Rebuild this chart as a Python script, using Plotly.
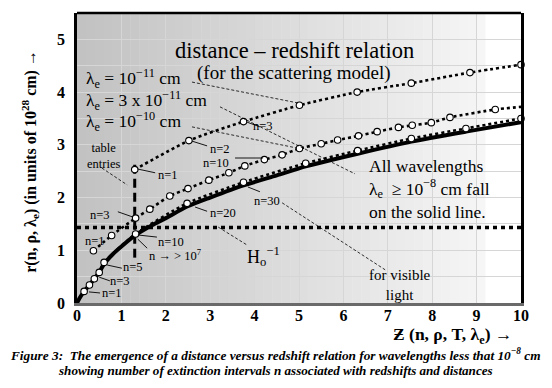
import plotly.graph_objects as go

# ---------------- data ----------------
# solid line: all wavelengths >= 1e-8 cm
z_solid = [0, 0.05, 0.16, 0.28, 0.39, 0.5, 0.61, 0.8, 1.0, 1.32, 1.7, 2.0, 2.48, 3.0,
           3.75, 4.5, 5.15, 6.32, 7.53, 8.76, 10.0]
r_solid = [0, 0.08, 0.22, 0.34, 0.46, 0.58, 0.74, 0.92, 1.07, 1.29, 1.48, 1.61, 1.83, 2.0,
           2.23, 2.42, 2.59, 2.83, 3.06, 3.25, 3.43]

# lambda_e = 1e-10 cm (table entries n = 1..5, 10, 20, ... 80)
z_l10 = [0.16, 0.28, 0.39, 0.5, 0.61, 1.32, 2.48, 3.75, 5.15, 6.32, 7.53, 8.76, 10.0]
r_l10 = [0.22, 0.34, 0.46, 0.58, 0.77, 1.31, 1.89, 2.29, 2.65, 2.89, 3.12, 3.31, 3.50]

# lambda_e = 3e-11 cm (n = 1, 2, 3, ...)
z_l3e11 = [0.37, 0.78, 1.32, 1.64, 2.09, 2.5, 2.97, 3.42, 3.78, 4.22, 4.62, 5.01, 5.5,
           5.87, 6.34, 6.76, 7.24, 7.55, 7.98, 8.4, 9.42]
r_l3e11 = [0.99, 1.28, 1.61, 1.78, 2.03, 2.17, 2.33, 2.47, 2.6, 2.72, 2.81, 2.93, 3.02,
           3.09, 3.17, 3.25, 3.33, 3.37, 3.42, 3.52, 3.67]
z_l3e11_end = 10.0
r_l3e11_end = 3.72

# lambda_e = 1e-11 cm (n = 1, 2, 3, ...)
z_l11 = [1.3, 2.52, 3.75, 5.01, 6.31, 7.53, 8.85, 10.0]
r_l11 = [2.53, 3.08, 3.44, 3.75, 4.0, 4.17, 4.37, 4.52]

# reference lines
hubble_r = 1.43            # H0^-1
table_z = 1.3              # table entries
table_r = [0.86, 2.70]

x_ticks = [0, 1, 2, 3, 4, 5, 6, 7, 8, 9, 10]
y_ticks = [0, 1, 2, 3, 4, 5]

SERIF = "Liberation Serif"

fig = go.Figure()

# background gradient strips (style only)
n_strips = 46
x_end_grad = 9.2
for i in range(n_strips):
    x0 = x_end_grad * i / n_strips
    x1 = x_end_grad * (i + 1) / n_strips
    g = int(194 + (246 - 194) * i / (n_strips - 1))
    fig.add_shape(type="rect", xref="x", yref="paper", x0=x0, x1=x1 + 0.01, y0=0, y1=1,
                  fillcolor=f"rgb({g},{g},{g})", line_width=0, layer="below")
fig.add_shape(type="rect", xref="x", yref="paper", x0=x_end_grad, x1=10, y0=0, y1=1,
              fillcolor="white", line_width=0, layer="below")

# H0^-1 line
fig.add_trace(go.Scatter(x=[0, 10], y=[hubble_r, hubble_r], mode="lines",
                         line=dict(color="black", width=3.5, dash="4px,4px"),
                         hoverinfo="skip"))
# table entries dashed vertical
fig.add_trace(go.Scatter(x=[table_z, table_z], y=table_r, mode="lines",
                         line=dict(color="black", width=3, dash="9px,5px"),
                         hoverinfo="skip"))

dot_line = dict(color="black", width=2.6, dash="dot", shape="spline", smoothing=0.6)
mk = dict(size=6.5, color="white", line=dict(color="black", width=1.1))

# lambda 1e-10 dotted (drawn before the solid line)
fig.add_trace(go.Scatter(x=z_l10, y=r_l10, mode="lines", line=dot_line))
# solid line
fig.add_trace(go.Scatter(x=z_solid, y=r_solid, mode="lines",
                         line=dict(color="black", width=4, shape="spline", smoothing=0.6)))
# middle and top dotted
fig.add_trace(go.Scatter(x=z_l3e11 + [z_l3e11_end], y=r_l3e11 + [r_l3e11_end],
                         mode="lines", line=dot_line))
fig.add_trace(go.Scatter(x=z_l11, y=r_l11, mode="lines", line=dot_line))

# markers
for zz, rr in [(z_l10, r_l10), (z_l3e11, r_l3e11), (z_l11, r_l11)]:
    fig.add_trace(go.Scatter(x=zz, y=rr, mode="markers", marker=mk, cliponaxis=False))

# ---------------- annotations ----------------
def txt(x, y, text, size, xanchor="center", align="center", **kw):
    fig.add_annotation(x=x, y=y, xref="x", yref="y", text=text, showarrow=False,
                       xanchor=xanchor, yanchor="middle", align=align,
                       font=dict(family=SERIF, size=size, color="black"), **kw)

txt(4.89, 4.79, "distance – redshift relation", 22.5)
txt(4.89, 4.37, "(for the scattering model)", 19)
txt(0.16, 4.25, "λ<sub>e</sub> = 10<sup>−11</sup> cm", 17.5, xanchor="left")
txt(0.16, 3.85, "λ<sub>e</sub> = 3 x 10<sup>−11</sup> cm", 17.5, xanchor="left")
txt(0.16, 3.44, "λ<sub>e</sub> = 10<sup>−10</sup> cm", 17.5, xanchor="left")
txt(0.59, 2.79, "table<br>entries", 12.5)

small = 12.5
txt(2.05, 2.43, "n=1", small)
txt(0.52, 1.67, "n=3", small)
txt(0.41, 1.18, "n=1", small)
txt(2.12, 1.16, "n=10", small)
txt(2.22, 0.91, "n → > 10<sup>7</sup>", small)
txt(1.26, 0.68, "n=5", small)
txt(0.97, 0.42, "n=3", small)
txt(0.79, 0.19, "n=1", small)
txt(3.22, 2.92, "n=2", small)
txt(4.19, 3.36, "n=3", small)
txt(3.13, 2.65, "n=10", small)
txt(3.29, 1.71, "n=20", small)
txt(4.28, 1.93, "n=30", small)
txt(4.19, 0.89, "H<sub>o</sub><sup>−1</sup>", 18)
txt(7.27, 0.34, "for visible<br>light", 15)
txt(6.53, 2.16, "All wavelengths<br>λ<sub>e</sub>  ≥ 10<sup>−8</sup> cm fall<br>on the solid line.",
    17.5, xanchor="left", align="left")

# pointer lines (dashed thin)
for (x0, y0, x1, y1) in [(2.59, 4.19, 5.0, 3.79), (3.22, 3.72, 6.26, 2.45),
                         (2.59, 3.34, 4.95, 2.94), (0.56, 2.56, 1.13, 2.24),
                         (3.18, 1.44, 3.83, 1.10), (4.62, 1.90, 6.94, 0.63)]:
    fig.add_shape(type="line", x0=x0, y0=y0, x1=x1, y1=y1, xref="x", yref="y",
                  line=dict(color="black", width=0.8, dash="3px,2px"))
# pointer lines (solid short)
for (x0, y0, x1, y1) in [(1.37, 2.54, 1.76, 2.47), (0.92, 1.73, 1.26, 1.63),
                         (1.37, 1.29, 1.80, 1.25), (1.37, 1.21, 1.58, 1.04),
                         (0.68, 0.72, 1.01, 0.66), (0.50, 0.49, 0.74, 0.42),
                         (0.27, 0.21, 0.52, 0.19), (2.59, 3.07, 2.93, 2.98),
                         (3.83, 3.43, 4.12, 3.34), (3.56, 2.75, 4.19, 2.75),
                         (2.66, 1.82, 2.93, 1.74), (3.85, 2.20, 4.12, 2.11)]:
    fig.add_shape(type="line", x0=x0, y0=y0, x1=x1, y1=y1, xref="x", yref="y",
                  line=dict(color="black", width=0.9))

# top border
fig.add_shape(type="line", xref="paper", yref="paper", x0=0, x1=1, y0=1, y1=1,
              line=dict(color="black", width=2.5))

# axis titles and caption
def ptxt(x, y, text, size, **kw):
    fig.add_annotation(xref="paper", yref="paper", x=x, y=y, text=text, showarrow=False,
                       xanchor="center", yanchor="middle",
                       font=dict(family=SERIF, size=size, color="black"), **kw)

ptxt(-0.106, 0.49, "<b>r(n, ρ, λ<sub>e</sub>) (in units of 10<sup>28</sup> cm) →</b>", 16,
     textangle=-90)
ptxt(0.845, -0.113, "<b>Ƶ (n, ρ, T, λ<sub>e</sub>) →</b>", 17.5)
ptxt(0.448, -0.178,
     "<b><i>Figure 3:  The emergence of a distance versus redshift relation for wavelengths less that 10<sup>−8</sup> cm</i></b>",
     13.3)
ptxt(0.448, -0.233,
     "<b><i>showing number of extinction intervals n associated with redshifts and distances</i></b>",
     13.1)

# page body has an 8px default margin: size/margins compensate for it
fig.update_layout(
    width=544, height=380,
    margin=dict(l=69, r=31, t=5, b=85),
    paper_bgcolor="white", plot_bgcolor="white",
    showlegend=False,
    xaxis=dict(range=[0, 10], tickvals=x_ticks, ticktext=[str(v) for v in x_ticks],
               showgrid=True, gridcolor="#d6d6d6", gridwidth=1, zeroline=False,
               showline=True, linecolor="#6a6a6a", linewidth=3, ticks="",
               ticklabelstandoff=-4,
               tickfont=dict(family=SERIF, size=16, color="black", weight="bold")),
    yaxis=dict(range=[0, 5.5], tickvals=y_ticks, ticktext=[str(v) for v in y_ticks],
               showgrid=True, gridcolor="#d6d6d6", gridwidth=1, zeroline=False,
               minor=dict(dtick=0.5, tick0=0, showgrid=True, gridcolor="#d6d6d6", gridwidth=1),
               showline=True, linecolor="black", linewidth=2.5, mirror=True, ticks="",
               ticklabelstandoff=6,
               tickfont=dict(family=SERIF, size=16, color="black", weight="bold")),
)

fig.write_html("out.html")
